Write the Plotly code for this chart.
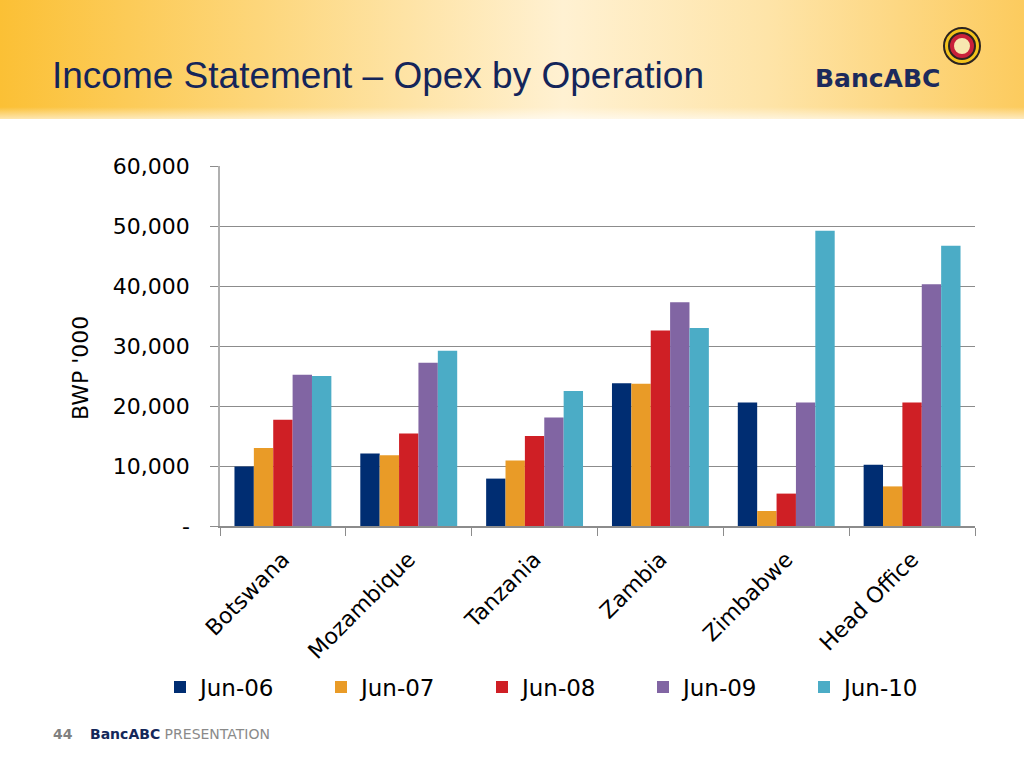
import base64
import plotly.graph_objects as go

categories = ["Botswana", "Mozambique", "Tanzania", "Zambia", "Zimbabwe", "Head Office"]
series_names = ["Jun-06", "Jun-07", "Jun-08", "Jun-09", "Jun-10"]
jun06 = [9900, 12100, 7900, 23800, 20600, 10200]
jun07 = [13000, 11800, 10900, 23700, 2500, 6600]
jun08 = [17700, 15400, 15000, 32600, 5400, 20600]
jun09 = [25200, 27200, 18100, 37300, 20600, 40300]
jun10 = [25000, 29200, 22500, 33000, 49200, 46700]
tick_vals = [0, 10000, 20000, 30000, 40000, 50000, 60000]
tick_text = ["-", "10,000", "20,000", "30,000", "40,000", "50,000", "60,000"]
colors = ["#002D72", "#E99B27", "#CF1F25", "#8165A3", "#4BACC6"]

W, H = 1024, 768
L, R, T, B = 220, 49, 166, 242
PW, PH = W - L - R, H - T - B


def px(x):
    return (x - L) / PW


def py(y):
    return 1 - (y - T) / PH


fig = go.Figure()
for name, vals, c in zip(series_names, [jun06, jun07, jun08, jun09, jun10], colors):
    fig.add_trace(go.Bar(name=name, x=categories, y=vals, marker=dict(color=c, line=dict(width=0))))

# Header gradient via SVG image
svg = '''<svg xmlns="http://www.w3.org/2000/svg" width="1024" height="120" viewBox="0 0 1024 120" preserveAspectRatio="none">
<defs>
<linearGradient id="g" x1="0" y1="0" x2="1" y2="0">
<stop offset="0" stop-color="#FBC035"/>
<stop offset="0.25" stop-color="#FDD67A"/>
<stop offset="0.55" stop-color="#FFF1D2"/>
<stop offset="0.75" stop-color="#FEE4A8"/>
<stop offset="1" stop-color="#FCCB5E"/>
</linearGradient>
<linearGradient id="v" x1="0" y1="0" x2="0" y2="1">
<stop offset="0" stop-color="#FFFFFF" stop-opacity="0"/>
<stop offset="0.9" stop-color="#FFFFFF" stop-opacity="0"/>
<stop offset="1" stop-color="#FFFFFF" stop-opacity="0.6"/>
</linearGradient>
</defs>
<rect width="1024" height="120" fill="url(#g)"/>
<rect width="1024" height="120" fill="url(#v)"/>
</svg>'''
src = "data:image/svg+xml;base64," + base64.b64encode(svg.encode()).decode()
fig.add_layout_image(dict(source=src, xref="paper", yref="paper", x=px(0), y=py(0),
                          sizex=px(W) - px(0), sizey=py(0) - py(119), xanchor="left", yanchor="top",
                          sizing="stretch", layer="below"))

annotations = [
    dict(text="Income Statement – Opex by Operation", x=px(50), y=py(75), xref="paper", yref="paper",
         xanchor="left", yanchor="middle", showarrow=False,
         font=dict(family="Liberation Sans", size=37, color="#14255A")),
    dict(text="<b>BancABC</b>", x=px(813), y=py(78), xref="paper", yref="paper",
         xanchor="left", yanchor="middle", showarrow=False,
         font=dict(family="DejaVu Sans", size=25, color="#1C2A5C")),
    dict(text="<b>44</b>", x=px(51), y=py(734), xref="paper", yref="paper",
         xanchor="left", yanchor="middle", showarrow=False,
         font=dict(family="DejaVu Sans", size=14, color="#808080")),
    dict(text="<b><span style='color:#14285A'>BancABC</span></b> PRESENTATION", x=px(88), y=py(734),
         xref="paper", yref="paper", xanchor="left", yanchor="middle", showarrow=False,
         font=dict(family="DejaVu Sans", size=14, color="#8A8A8A")),
    dict(text="BWP '000", x=px(80), y=py(368), xref="paper", yref="paper", textangle=-90,
         xanchor="center", yanchor="middle", showarrow=False,
         font=dict(family="DejaVu Sans", size=22, color="#000000")),
]

shapes = []
cx, cy = 962, 46
for r, fill, line in [(18, "#F2C21B", "#2B2320"), (13, "#2B2320", "#2B2320"), (11, "#C8203A", "#C8203A"), (7, "#F7E7B0", "#F7E7B0")]:
    shapes.append(dict(type="circle", xref="paper", yref="paper", x0=px(cx - r), x1=px(cx + r),
                       y0=py(cy + r), y1=py(cy - r), fillcolor=fill, line=dict(color=line, width=2)))

fig.update_layout(
    width=W, height=H,
    margin=dict(l=L, r=R, t=T, b=B),
    paper_bgcolor="white", plot_bgcolor="white",
    barmode="group", bargap=0.23, bargroupgap=0,
    font=dict(family="DejaVu Sans", size=20, color="#000000"),
    annotations=annotations, shapes=shapes,
    legend=dict(orientation="h", x=px(160), y=py(687), xanchor="left", yanchor="middle",
                font=dict(family="DejaVu Sans", size=23, color="#000000"),
                entrywidth=116, entrywidthmode="pixels", itemclick=False),
    xaxis=dict(showline=True, linecolor="#8C8C8C", linewidth=1.5, ticks="outside", tickson="boundaries",
               ticklen=8, tickcolor="#8C8C8C", tickangle=-45, showgrid=False, ticklabelstandoff=10,
               tickfont=dict(family="DejaVu Sans", size=22, color="#000000")),
    yaxis=dict(range=[0, 60000], tickvals=tick_vals, ticktext=tick_text, showline=True,
               linecolor="#B0B0B0", linewidth=1.5, ticks="outside", ticklen=8, tickcolor="#8C8C8C",
               showgrid=True, gridcolor="#8C8C8C", gridwidth=1, zeroline=False, ticklabelstandoff=16,
               tickfont=dict(family="DejaVu Sans", size=22, color="#000000")),
)

fig.write_html("out.html", config={"displayModeBar": False},
               post_script="document.body.style.margin='0';document.body.style.padding='0';")
